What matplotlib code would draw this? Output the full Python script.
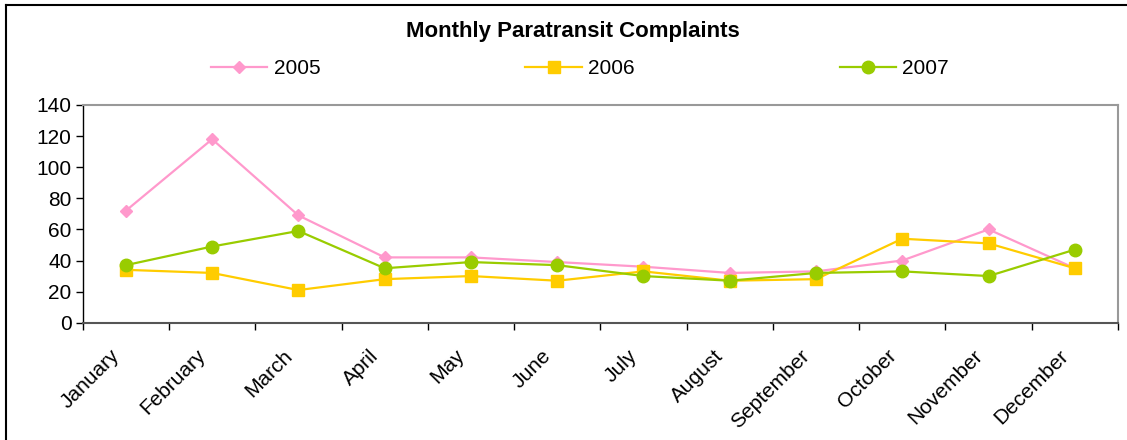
import matplotlib
matplotlib.use("Agg")
import matplotlib.pyplot as plt
from matplotlib.lines import Line2D
from matplotlib.transforms import ScaledTranslation

MONTHS = ["January", "February", "March", "April", "May", "June",
          "July", "August", "September", "October", "November", "December"]
Y2005 = [72, 118, 69, 42, 42, 39, 36, 32, 33, 40, 60, 35]
Y2006 = [34, 32, 21, 28, 30, 27, 33, 27, 28, 54, 51, 35]
Y2007 = [37, 49, 59, 35, 39, 37, 30, 27, 32, 33, 30, 47]

PINK = "#ff99cc"
GOLD = "#ffcc00"
GREEN = "#99cc00"

plt.rcParams["font.family"] = ["Liberation Sans", "DejaVu Sans"]

W, H = 1127, 440
fig = plt.figure(figsize=(W / 100, H / 100), dpi=100)
ax = fig.add_axes([82.7 / W, 1 - 322.7 / H, (1118 - 82.7) / W, (322.7 - 105) / H])

x = list(range(len(MONTHS)))
series = [
    ("2005", Y2005, PINK, "D", 6.5),
    ("2006", Y2006, GOLD, "s", 9),
    ("2007", Y2007, GREEN, "o", 9),
]
for label, vals, color, marker, ms in series:
    ax.plot(x, vals, color=color, linewidth=1.6, marker=marker, markersize=ms,
            markerfacecolor=color, markeredgecolor=color, label=label, clip_on=False)

ax.set_xlim(-0.5, len(MONTHS) - 0.5)
ax.set_ylim(0, 140)
ax.set_yticks(range(0, 141, 20))
ax.tick_params(axis="y", labelsize=15, length=5, width=1, direction="out", pad=3)

# ticks between categories, labels at centres
ax.set_xticks([i - 0.5 for i in range(len(MONTHS) + 1)])
ax.set_xticklabels([])
ax.set_xticks(x, minor=True)
ax.set_xticklabels(MONTHS, minor=True, rotation=45, ha="right", va="top",
                   rotation_mode="anchor", fontsize=15)
ax.tick_params(axis="x", which="major", length=5, width=1, direction="out")
ax.tick_params(axis="x", which="minor", length=0, pad=11)
shift = ScaledTranslation(-0.16, -0.08, fig.dpi_scale_trans)
for lab in ax.get_xticklabels(minor=True):
    lab.set_transform(lab.get_transform() + shift)

for side in ["top", "right"]:
    ax.spines[side].set_color("#999999")
    ax.spines[side].set_linewidth(1.5)
ax.spines["bottom"].set_color("#555555")
ax.spines["bottom"].set_linewidth(1.5)
ax.spines["left"].set_color("black")
ax.spines["left"].set_linewidth(1)

fig.text(573 / W, 1 - 32 / H, "Monthly Paratransit Complaints", ha="center",
         va="center", fontsize=16, fontweight="bold")

handles = [
    Line2D([0], [0], color=c, linewidth=1.6, marker=m, markersize=ms,
           markerfacecolor=c, markeredgecolor=c)
    for _, _, c, m, ms in series
]
fig.legend(handles, [s[0] for s in series], ncol=3, loc="center",
           bbox_to_anchor=(580 / W, 1 - 69 / H), frameon=False, fontsize=15,
           handlelength=2.7, handletextpad=0.3, columnspacing=9.85)

# outer chart border
fig.add_artist(Line2D([6 / W, 1], [1 - 5 / H, 1 - 5 / H], color="black", linewidth=1.5))
fig.add_artist(Line2D([6 / W, 6 / W], [0, 1 - 5 / H], color="black", linewidth=1.5))

fig.savefig("out.png", dpi=100)
